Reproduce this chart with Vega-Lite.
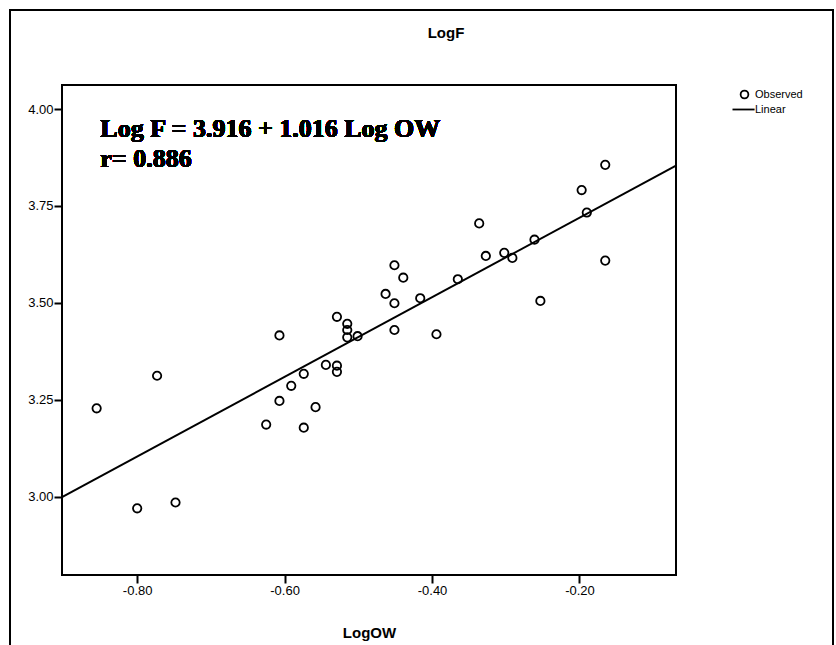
{
  "$schema": "https://vega.github.io/schema/vega-lite/v6.json",
  "autosize": {"type": "none"},
  "padding": {"left": 62, "top": 85, "right": 160, "bottom": 70},
  "width": 614,
  "height": 490,
  "background": "white",
  "title": {"text": "LogF", "font": "Liberation Sans", "fontSize": 15, "fontWeight": "bold", "color": "black", "anchor": "middle", "baseline": "alphabetic", "dx": 77, "offset": -44},
  "data": {"values": [
    {"LogOW": -0.855, "LogF": 3.228},
    {"LogOW": -0.773, "LogF": 3.312},
    {"LogOW": -0.800, "LogF": 2.970},
    {"LogOW": -0.748, "LogF": 2.985},
    {"LogOW": -0.607, "LogF": 3.416},
    {"LogOW": -0.625, "LogF": 3.186},
    {"LogOW": -0.607, "LogF": 3.247},
    {"LogOW": -0.591, "LogF": 3.286},
    {"LogOW": -0.574, "LogF": 3.317},
    {"LogOW": -0.558, "LogF": 3.231},
    {"LogOW": -0.574, "LogF": 3.178},
    {"LogOW": -0.544, "LogF": 3.340},
    {"LogOW": -0.529, "LogF": 3.338},
    {"LogOW": -0.529, "LogF": 3.322},
    {"LogOW": -0.529, "LogF": 3.464},
    {"LogOW": -0.515, "LogF": 3.446},
    {"LogOW": -0.515, "LogF": 3.430},
    {"LogOW": -0.515, "LogF": 3.411},
    {"LogOW": -0.501, "LogF": 3.414},
    {"LogOW": -0.451, "LogF": 3.499},
    {"LogOW": -0.451, "LogF": 3.430},
    {"LogOW": -0.451, "LogF": 3.597},
    {"LogOW": -0.439, "LogF": 3.565},
    {"LogOW": -0.463, "LogF": 3.523},
    {"LogOW": -0.416, "LogF": 3.512},
    {"LogOW": -0.394, "LogF": 3.419},
    {"LogOW": -0.365, "LogF": 3.561},
    {"LogOW": -0.336, "LogF": 3.705},
    {"LogOW": -0.327, "LogF": 3.621},
    {"LogOW": -0.302, "LogF": 3.629},
    {"LogOW": -0.291, "LogF": 3.616},
    {"LogOW": -0.261, "LogF": 3.663},
    {"LogOW": -0.253, "LogF": 3.505},
    {"LogOW": -0.197, "LogF": 3.791},
    {"LogOW": -0.190, "LogF": 3.733},
    {"LogOW": -0.165, "LogF": 3.856},
    {"LogOW": -0.165, "LogF": 3.609}
  ]},
  "layer": [
    {
      "mark": {"type": "rect", "filled": false, "stroke": "black", "strokeWidth": 1.5, "clip": false},
      "encoding": {
        "x": {"datum": -0.9726, "type": "quantitative"},
        "x2": {"datum": 0.1441},
        "y": {"datum": 4.2553, "type": "quantitative"},
        "y2": {"datum": 2.579}
      }
    },
    {
      "transform": [{"regression": "LogF", "on": "LogOW", "extent": [-0.902, -0.069]}],
      "mark": {"type": "line", "color": "black", "strokeWidth": 2},
      "encoding": {
        "x": {"field": "LogOW", "type": "quantitative"},
        "y": {"field": "LogF", "type": "quantitative"}
      }
    },
    {
      "mark": {"type": "point", "filled": false, "stroke": "black", "strokeWidth": 1.8, "size": 70, "opacity": 1},
      "encoding": {
        "x": {
          "field": "LogOW", "type": "quantitative",
          "scale": {"domain": [-0.902, -0.069], "nice": false, "zero": false},
          "axis": {"values": [-0.8, -0.6, -0.4, -0.2], "labelExpr": "(datum.value < 0 ? '-' : '') + format(abs(datum.value), '.2f')", "title": "LogOW", "titlePadding": 28}
        },
        "y": {
          "field": "LogF", "type": "quantitative",
          "scale": {"domain": [2.798, 4.062], "nice": false, "zero": false},
          "axis": {"values": [3.0, 3.25, 3.5, 3.75, 4.0], "format": ".2f", "title": null}
        },
        "shape": {
          "datum": "Observed",
          "scale": {"domain": ["Observed", "Linear"], "range": ["circle", "M-3.1,0H2.6"]},
          "legend": {
            "orient": "none", "legendX": 677, "legendY": 4, "title": null,
            "labelFont": "Liberation Sans", "labelFontSize": 11, "labelColor": "black",
            "symbolSize": 60, "symbolStrokeColor": "black", "symbolStrokeWidth": 1.8,
            "rowPadding": 1, "labelOffset": 5, "padding": 0
          }
        }
      }
    },
    {
      "mark": {"type": "text", "text": ["Log F = 3.916 + 1.016 Log OW", "r= 0.886"], "font": "Liberation Serif", "fontWeight": "bold", "fontSize": 26, "lineHeight": 30, "align": "left", "baseline": "alphabetic", "color": "black"},
      "encoding": {
        "x": {"datum": -0.85, "type": "quantitative"},
        "y": {"datum": 3.927, "type": "quantitative"}
      }
    }
  ],
  "config": {
    "view": {"stroke": "black", "strokeWidth": 2},
    "axis": {"domain": false, "grid": false, "tickColor": "black", "tickWidth": 2, "tickSize": 8, "labelFont": "Liberation Sans", "labelFontSize": 13, "labelColor": "black", "labelPadding": 1, "titleFont": "Liberation Sans", "titleFontSize": 15, "titleFontWeight": "bold", "titleColor": "black"}
  }
}
